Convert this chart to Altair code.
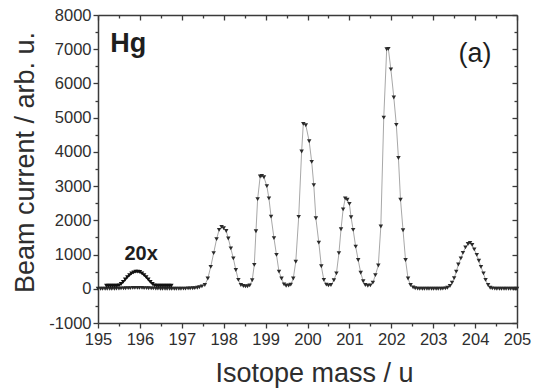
import altair as alt
import pandas as pd

# ---- main scan (isotope mass / beam current) ----
main_x = [
    195.00, 195.06, 195.11, 195.17, 195.22, 195.28, 195.33, 195.39, 195.44, 195.50,
    195.55, 195.61, 195.66, 195.72, 195.77, 195.83, 195.88, 195.94, 195.99, 196.05,
    196.10, 196.16, 196.21, 196.27, 196.32, 196.38, 196.43, 196.49, 196.54, 196.60,
    196.65, 196.71, 196.76, 196.82, 196.87, 196.93, 196.98, 197.04, 197.09, 197.15,
    197.20, 197.26, 197.31, 197.37, 197.42, 197.48,
    197.55, 197.62, 197.69, 197.76, 197.83, 197.89, 197.95, 198.00, 198.06, 198.11,
    198.17, 198.23, 198.29, 198.35, 198.41, 198.47, 198.52, 198.57, 198.62, 198.68,
    198.73, 198.77, 198.81,
    198.87, 198.91, 198.96, 199.03, 199.08, 199.13, 199.20, 199.26, 199.32, 199.38,
    199.44, 199.49, 199.55, 199.60, 199.66, 199.72, 199.79, 199.86,
    199.90, 199.96, 200.04, 200.10, 200.15, 200.20, 200.27, 200.33, 200.39, 200.45,
    200.50, 200.56, 200.63, 200.69, 200.75, 200.80, 200.85,
    200.90, 200.95, 201.00, 201.04, 201.09, 201.15, 201.21, 201.27, 201.33, 201.38,
    201.44, 201.50, 201.56, 201.62, 201.69, 201.75,
    201.82, 201.89, 201.93, 201.99, 202.06, 202.12, 202.17, 202.22, 202.28, 202.34,
    202.40, 202.46, 202.52, 202.57,
    202.63, 202.68, 202.74, 202.79, 202.85, 202.90, 202.96, 203.01, 203.07, 203.12,
    203.18, 203.23, 203.29, 203.34,
    203.40, 203.45, 203.50, 203.55, 203.60, 203.66, 203.71, 203.77, 203.83, 203.88,
    203.93, 203.98, 204.04, 204.09, 204.14, 204.20, 204.25, 204.31, 204.36,
    204.41, 204.47, 204.52, 204.58, 204.63, 204.69, 204.74, 204.80, 204.85, 204.91,
    204.96, 205.00,
]
main_y = [
    0, 0, 0, 0, 0, 0, 0, 0, 5, 5,
    10, 10, 15, 20, 20, 25, 25, 25, 25, 25,
    20, 20, 15, 10, 10, 5, 5, 0, 0, 0,
    0, 0, 0, 0, 0, 0, 0, 5, 5, 10,
    10, 15, 20, 30, 45, 70,
    110, 300, 640, 1040, 1450, 1720, 1810, 1770, 1690, 1470,
    1180, 890, 550, 260, 110, 80, 70, 75, 100, 250,
    700, 1680, 2620,
    3280, 3300, 3260, 3000, 2640, 2110, 1480, 990, 500, 300,
    130, 90, 95, 120, 300, 790, 2100, 4010,
    4820, 4780, 4310, 3710, 3030, 2060, 1350, 660, 260, 120,
    100, 110, 250, 450, 1040, 1740, 2320,
    2640, 2600, 2480, 2090, 1720, 1230, 840, 470, 220, 110,
    90, 100, 180, 400, 680, 1820,
    5000, 7000, 7010, 6410, 5590, 4790, 3820, 2600, 1710, 840,
    300, 110, 40, 15,
    5, 0, 0, 0, 0, 0, 0, 0, 0, 0,
    0, 5, 10, 30,
    80, 180, 310, 500, 710, 890, 1050, 1210, 1310, 1340,
    1280, 1150, 990, 820, 640, 450, 260, 110, 30,
    10, 5, 0, 0, 0, 0, 0, 0, 0, 0,
    0, 0,
]

# ---- 196Hg region magnified 20x ----
x20_x = [
    195.20, 195.25, 195.30, 195.35, 195.40, 195.45, 195.50, 195.55, 195.60, 195.65,
    195.70, 195.75, 195.80, 195.85, 195.90, 195.95, 196.00, 196.05, 196.10, 196.15,
    196.20, 196.25, 196.30, 196.35, 196.40, 196.45, 196.50, 196.55, 196.60, 196.65,
    196.70, 196.75,
]
x20_y = [
    90, 90, 90, 90, 90, 90, 100, 140, 200, 270,
    340, 400, 450, 480, 500, 500, 490, 450, 400, 340,
    270, 200, 140, 100, 90, 90, 90, 90, 90, 90,
    90, 90,
]

# ---- ticks ----
x_ticks = [195, 196, 197, 198, 199, 200, 201, 202, 203, 204, 205]
x_minor = [195.5, 196.5, 197.5, 198.5, 199.5, 200.5, 201.5, 202.5, 203.5, 204.5]
y_ticks = [-1000, 0, 1000, 2000, 3000, 4000, 5000, 6000, 7000, 8000]
y_minor = [-500, 500, 1500, 2500, 3500, 4500, 5500, 6500, 7500]

# ---- annotations ----
ann_text = ["Hg", "(a)", "20x"]
ann_x = [195.29, 204.0, 196.03]
ann_y = [6920, 6620, 842]

FONT = "Liberation Sans"
AX = "#3a3a3a"
TXT = "#2e2e2e"
W, H = 419, 308

main = pd.DataFrame({"mass": main_x, "current": main_y})
x20 = pd.DataFrame({"mass": x20_x, "current": x20_y})
ann = pd.DataFrame({"label": ann_text, "mass": ann_x, "current": ann_y})

xs = alt.Scale(domain=[195, 205], nice=False, zero=False)
ys = alt.Scale(domain=[-1000, 8000], nice=False, zero=False)

common = dict(domainColor=AX, domainWidth=1.5, tickColor=AX, tickWidth=1.3, grid=False)

x_bottom = alt.Axis(orient="bottom", values=x_ticks, tickSize=5, labelFont=FONT,
                    labelFontSize=16.5, labelColor=TXT, labelPadding=3,
                    labelFlush=False, labelOverlap=False,
                    labelExpr="'' + datum.value", title="Isotope mass / u",
                    titleFont=FONT, titleFontSize=27, titleFontWeight="normal",
                    titleColor=TXT, titleX=216, titleY=58, titleBaseline="alphabetic",
                    titleAlign="center", **common)
y_left = alt.Axis(orient="left", values=y_ticks, tickSize=5, labelFont=FONT,
                  labelFontSize=16.5, labelColor=TXT, labelPadding=2,
                  labelFlush=False, labelOverlap=False,
                  labelExpr="'' + datum.value", title="Beam current / arb. u.",
                  titleFont=FONT, titleFontSize=27, titleFontWeight="normal",
                  titleColor=TXT, titleX=-65, titleY=147, titleAngle=-90,
                  titleBaseline="alphabetic", titleAlign="center", **common)
x_bottom_minor = alt.Axis(orient="bottom", values=x_minor, tickSize=3, labels=False,
                          domain=False, title="", tickColor=AX, tickWidth=1.3, grid=False)
y_left_minor = alt.Axis(orient="left", values=y_minor, tickSize=3, labels=False,
                        domain=False, title="", tickColor=AX, tickWidth=1.3, grid=False)
x_top = alt.Axis(orient="bottom", offset=-H, values=x_ticks, tickSize=5, labels=False,
                 title="", **common)
y_right = alt.Axis(orient="left", offset=-W, values=y_ticks, tickSize=5, labels=False,
                   title="", **common)
x_top_minor = alt.Axis(orient="bottom", offset=-H, values=x_minor, tickSize=3,
                       labels=False, domain=False, title="", tickColor=AX,
                       tickWidth=1.3, grid=False)
y_right_minor = alt.Axis(orient="left", offset=-W, values=y_minor, tickSize=3,
                         labels=False, domain=False, title="", tickColor=AX,
                         tickWidth=1.3, grid=False)

main_line = alt.Chart(main).mark_line(color="#a8a8a8", strokeWidth=1).encode(
    x=alt.X("mass:Q", scale=xs, axis=x_bottom),
    y=alt.Y("current:Q", scale=ys, axis=y_left),
)
main_pts = alt.Chart(main).mark_point(shape="triangle-down", filled=True, size=20,
                                      color="#2a2a2a", opacity=1).encode(
    x=alt.X("mass:Q", scale=xs, axis=x_bottom_minor),
    y=alt.Y("current:Q", scale=ys, axis=y_left_minor),
)
x20_line = alt.Chart(x20).mark_line(color="#111111", strokeWidth=1.6).encode(
    x=alt.X("mass:Q", scale=xs, axis=x_top),
    y=alt.Y("current:Q", scale=ys, axis=y_right),
)
x20_pts = alt.Chart(x20).mark_point(shape="triangle-down", filled=True, size=20,
                                    color="#111111", opacity=1).encode(
    x=alt.X("mass:Q", scale=xs, axis=x_top_minor),
    y=alt.Y("current:Q", scale=ys, axis=y_right_minor),
)

def text_layer(lbl, size, weight, align):
    return alt.Chart(ann[ann["label"] == lbl]).mark_text(
        font=FONT, fontSize=size, fontWeight=weight, align=align,
        baseline="alphabetic", color="#1e1e1e"
    ).encode(
        x=alt.X("mass:Q", scale=xs, axis=None),
        y=alt.Y("current:Q", scale=ys, axis=None),
        text="label:N",
    )

t_hg = text_layer("Hg", 27, "bold", "left")
t_a = text_layer("(a)", 27, "normal", "center")
t_20 = text_layer("20x", 20, "bold", "center")

chart = alt.layer(main_line, main_pts, x20_line, x20_pts, t_hg, t_a, t_20).resolve_axis(
    x="independent", y="independent"
).properties(
    width=W, height=H,
    padding={"left": 98, "top": 15, "right": 16, "bottom": 67},
    autosize=alt.AutoSizeParams(type="none"),
    background="white",
).configure_view(stroke=None)

chart.save("out.html", embed_options={"renderer": "svg", "actions": False})
